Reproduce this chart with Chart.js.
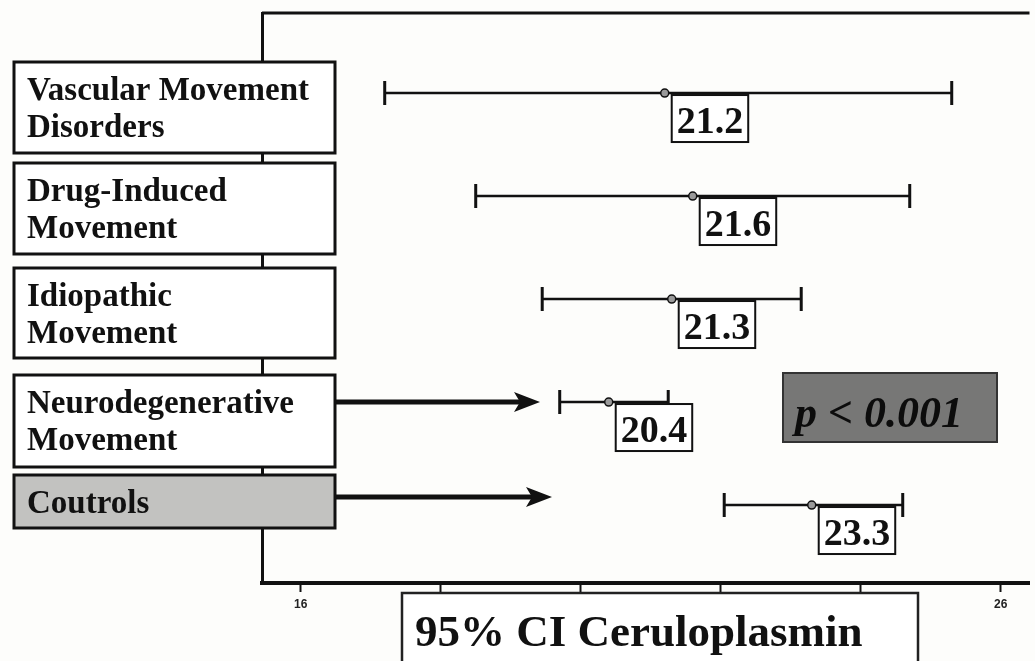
<!DOCTYPE html>
<html>
<head>
<meta charset="utf-8">
<script src="https://cdn.jsdelivr.net/npm/chart.js@4/dist/chart.umd.min.js"></script>
<style>
  html, body { margin:0; padding:0; background:#fdfdfb; }
  #wrap { width:1035px; height:661px; }
</style>
</head>
<body>
<div id="wrap"><canvas id="ciChart" width="1035" height="661"></canvas></div>
<script>
(function(){
  // data
  const categoryLines = [['Vascular Movement','Disorders'], ['Drug-Induced','Movement'], ['Idiopathic','Movement'], ['Neurodegenerative','Movement'], ['Coutrols']];
  const means   = [21.2, 21.6, 21.3, 20.4, 23.3];
  const lowerCI = [17.2, 18.5, 19.45, 19.7, 22.05];
  const upperCI = [25.3, 24.7, 23.15, 21.25, 24.6];
  const tickValues = [16, 18, 20, 22, 24, 26];
  const tickLabels = ['16', '18', '20', '22', '24', '26'];
  const axisTitle = '95% CI Ceruloplasmin';
  const pText = 'p < 0.001';

  // layout of the annotation boxes (pixels)
  const SERIF = '"Liberation Serif", "Times New Roman", serif';
  const labelBoxes = [{top:62,bottom:153}, {top:163,bottom:254}, {top:268,bottom:358}, {top:375,bottom:467}, {top:475,bottom:528}];
  const boxLeft = 14, boxRight = 335;

  function arrow(ctx, x0, x1, yy){
    ctx.save();
    ctx.strokeStyle = '#111'; ctx.fillStyle = '#111'; ctx.lineWidth = 5;
    ctx.beginPath(); ctx.moveTo(x0, yy); ctx.lineTo(x1 - 16, yy); ctx.stroke();
    ctx.beginPath(); ctx.moveTo(x1, yy); ctx.lineTo(x1 - 26, yy - 10); ctx.lineTo(x1 - 20, yy); ctx.lineTo(x1 - 26, yy + 10); ctx.closePath(); ctx.fill();
    ctx.restore();
  }

  const forestPlugin = {
    id: 'forest',
    beforeDatasetsDraw(chart){
      const {ctx, chartArea:a, scales:{x, y}} = chart;
      ctx.save();
      // top frame line
      ctx.strokeStyle = '#111'; ctx.lineWidth = 3;
      ctx.beginPath(); ctx.moveTo(a.left, a.top); ctx.lineTo(a.right, a.top); ctx.stroke();
      // CI bars
      lowerCI.forEach((lo, i) => {
        const py = y.getPixelForValue(i), x0 = x.getPixelForValue(lo), x1 = x.getPixelForValue(upperCI[i]);
        ctx.lineWidth = 2.5;
        ctx.beginPath(); ctx.moveTo(x0, py); ctx.lineTo(x1, py); ctx.stroke();
        ctx.lineWidth = 3;
        ctx.beginPath(); ctx.moveTo(x0, py - 12); ctx.lineTo(x0, py + 12); ctx.moveTo(x1, py - 12); ctx.lineTo(x1, py + 12); ctx.stroke();
      });
      ctx.restore();
    },
    afterDatasetsDraw(chart){
      const {ctx, scales:{x, y}} = chart;
      ctx.save();
      ctx.font = 'bold 38px ' + SERIF;
      ctx.textBaseline = 'alphabetic';
      means.forEach((m, i) => {
        const px = x.getPixelForValue(m) + 7, py = y.getPixelForValue(i) + 2;
        const label = m.toFixed(1);
        const w = ctx.measureText(label).width + 10;
        ctx.fillStyle = '#fff'; ctx.fillRect(px, py, w, 47);
        ctx.strokeStyle = '#111'; ctx.lineWidth = 2; ctx.strokeRect(px, py, w, 47);
        ctx.fillStyle = '#111'; ctx.fillText(label, px + 5, py + 38);
      });
      ctx.restore();
    },
    afterDraw(chart){
      const {ctx, scales:{y}} = chart;
      ctx.save();
      // category boxes
      categoryLines.forEach((lines, i) => {
        const b = labelBoxes[i];
        ctx.fillStyle = i === 4 ? '#c2c2c0' : '#fff';
        ctx.fillRect(boxLeft, b.top, boxRight - boxLeft, b.bottom - b.top);
        ctx.strokeStyle = '#111'; ctx.lineWidth = 3;
        ctx.strokeRect(boxLeft, b.top, boxRight - boxLeft, b.bottom - b.top);
        ctx.fillStyle = '#111'; ctx.font = 'bold 33px ' + SERIF;
        lines.forEach((t, k) => ctx.fillText(t, 27, b.top + 38 + k * 37));
      });
      // arrows to the two compared groups
      arrow(ctx, boxRight, 540, y.getPixelForValue(3));
      arrow(ctx, boxRight, 552, y.getPixelForValue(4) - 8);
      // p value box
      ctx.fillStyle = '#777776'; ctx.fillRect(783, 373, 214, 69);
      ctx.strokeStyle = '#333'; ctx.lineWidth = 2; ctx.strokeRect(783, 373, 214, 69);
      ctx.fillStyle = '#0c0c0c'; ctx.font = 'italic bold 44px ' + SERIF;
      ctx.fillText(pText, 795, 427);
      // axis title box
      ctx.fillStyle = '#fff'; ctx.fillRect(402, 593, 516, 90);
      ctx.strokeStyle = '#222'; ctx.lineWidth = 2.5; ctx.strokeRect(402, 593, 516, 90);
      ctx.fillStyle = '#111'; ctx.font = 'bold 45px ' + SERIF;
      ctx.fillText(axisTitle, 415, 646);
      ctx.restore();
    }
  };

  const ctx = document.getElementById('ciChart').getContext('2d');
  new Chart(ctx, {
    type: 'scatter',
    data: { datasets: [{
      label: 'Mean',
      data: means.map((m, i) => ({x: m, y: i})),
      pointRadius: 4, pointHoverRadius: 4,
      pointBackgroundColor: '#9a9a9a', pointBorderColor: '#111', pointBorderWidth: 1.5
    }]},
    options: {
      responsive: false, animation: false,
      layout: { padding: { left: 262, top: 13, right: 0, bottom: 0 } },
      plugins: { legend: { display: false }, tooltip: { enabled: false } },
      scales: {
        x: {
          type: 'linear', min: 15.447, max: 26.411,
          afterBuildTicks: s => { s.ticks = tickValues.map(v => ({value: v})); },
          afterFit: s => { s.height = 78; },
          ticks: { autoSkip: false, maxRotation: 0, padding: 5, color: '#222',
                   font: { family: '"Liberation Sans", Arial, sans-serif', size: 12, weight: 'bold' },
                   callback: (v, i) => tickLabels[i] },
          grid: { drawOnChartArea: false, drawTicks: true, tickLength: 9, tickWidth: 2, tickColor: '#111' },
          border: { display: true, color: '#111', width: 4 }
        },
        y: {
          type: 'linear', reverse: true, min: -0.777, max: 4.757,
          afterFit: s => { s.width = 0; },
          ticks: { display: false },
          grid: { display: false },
          border: { display: true, color: '#111', width: 3 }
        }
      }
    },
    plugins: [forestPlugin]
  });
})();
</script>
</body>
</html>
